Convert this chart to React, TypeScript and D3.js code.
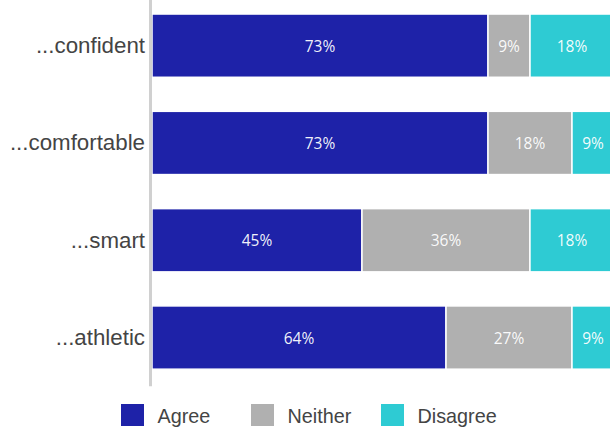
import React from "react";
import * as d3 from "d3";

const categories = ["...confident", "...comfortable", "...smart", "...athletic"];
const seriesNames = ["Agree", "Neither", "Disagree"];
const agree = [72.73, 72.73, 45.45, 63.64];
const neither = [9.09, 18.18, 36.36, 27.27];
const disagree = [18.18, 9.09, 18.18, 9.09];
const colors = ["#1e22a8", "#b0b0b0", "#2ecbd3"];

const W = 610;
const H = 427;

export default function App() {
  const x = d3.scaleLinear().domain([0, 100]).range([152, 614]);
  const y = d3
    .scaleBand<string>()
    .domain(categories)
    .range([-3, 386.2])
    .paddingInner(0.35)
    .paddingOuter(0.175);

  const rows = categories.map((c, i) => ({
    cat: c,
    Agree: agree[i],
    Neither: neither[i],
    Disagree: disagree[i],
  }));
  const stacked = d3.stack<any>().keys(seriesNames)(rows);
  const fmt = (v: number) => `${Math.round(v)}%`;

  return (
    <svg
      width={W}
      height={H}
      style={{ position: "absolute", left: 0, top: 0, display: "block", background: "#fff" }}
    >
      {stacked.map((layer, li) => (
        <g key={layer.key}>
          {layer.map((d, i) => {
            const x0 = x(d[0]);
            const x1 = x(d[1]);
            const yy = y(categories[i])!;
            return (
              <g key={i}>
                <rect
                  x={x0}
                  y={yy}
                  width={x1 - x0}
                  height={y.bandwidth()}
                  fill={colors[li]}
                  stroke="#fff"
                  strokeWidth={1.5}
                />
                <text
                  x={(x0 + x1) / 2}
                  y={yy + y.bandwidth() / 2}
                  textAnchor="middle"
                  dominantBaseline="central"
                  fill="#fff"
                  fillOpacity={0.95}
                  fontFamily="'Open Sans', sans-serif"
                  fontSize={15.5}
                >
                  {fmt(d[1] - d[0])}
                </text>
              </g>
            );
          })}
        </g>
      ))}
      <line x1={150.5} x2={150.5} y1={y.range()[0]} y2={y.range()[1]} stroke="#d0d0d0" strokeWidth={3} />
      {categories.map((c) => (
        <text
          key={c}
          x={145}
          y={y(c)! + y.bandwidth() / 2}
          textAnchor="end"
          dominantBaseline="central"
          fill="#444"
          fontFamily="'Liberation Sans', Arial, sans-serif"
          fontSize={22.3}
        >
          {c}
        </text>
      ))}
      {seriesNames.map((s, i) => (
        <g key={s} transform={`translate(${121 + i * 130},404)`}>
          <rect width={23} height={22} fill={colors[i]} />
          <text
            x={36.5}
            y={11.5}
            dominantBaseline="central"
            fill="#444"
            fontFamily="'Liberation Sans', Arial, sans-serif"
            fontSize={19.8}
          >
            {s}
          </text>
        </g>
      ))}
    </svg>
  );
}
